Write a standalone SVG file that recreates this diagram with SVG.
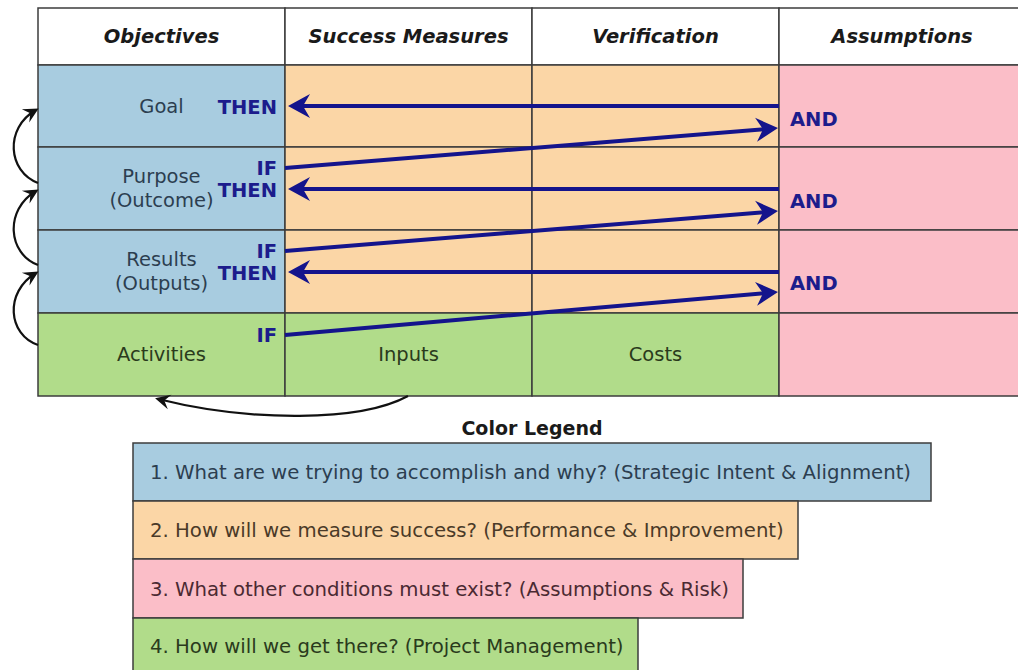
<svg xmlns="http://www.w3.org/2000/svg" width="1018" height="670" viewBox="0 0 1018 670">
<defs>
<style>
.cell{stroke:#3c3c3c;stroke-width:1.5}
.white{fill:#ffffff}
.blue{fill:#a8cce0}
.peach{fill:#fbd6a6}
.pink{fill:#fbbec8}
.green{fill:#b1dc8a}
.hdr{font-family:"DejaVu Sans",sans-serif;font-weight:bold;font-style:italic;font-size:19.5px;fill:#1a1a1a;text-anchor:middle}
.lbl{font-family:"DejaVu Sans",sans-serif;font-size:19.5px;text-anchor:middle}
.tb{fill:#2c3e50}
.tg{fill:#2a3a1c}
.kw{font-family:"DejaVu Sans",sans-serif;font-weight:bold;font-size:19.5px;fill:#1c1c8c}
.end{text-anchor:end}
.leg{font-family:"DejaVu Sans",sans-serif;font-size:19.7px}
.ttl{font-family:"DejaVu Sans",sans-serif;font-weight:bold;font-size:19px;fill:#1a1a1a;text-anchor:middle}
.link{stroke:#14148c;stroke-width:4;fill:none;marker-end:url(#bh)}
.flow{stroke:#111111;stroke-width:2.2;fill:none;marker-end:url(#kh)}
</style>
<marker id="bh" markerUnits="userSpaceOnUse" markerWidth="30" markerHeight="30" viewBox="-25 -15 30 30" refX="-6" refY="0" orient="auto">
<path d="M0,0 L-22,-12 L-15,0 L-22,12 Z" fill="#14148c"/>
</marker>
<marker id="kh" markerUnits="userSpaceOnUse" markerWidth="20" markerHeight="20" viewBox="-16 -10 20 20" refX="-3" refY="0" orient="auto">
<path d="M0,0 L-15,-7.5 L-9.5,0 L-15,7.5 Z" fill="#111111"/>
</marker>
</defs>
<rect x="0" y="0" width="1018" height="670" fill="#ffffff"/>

<g id="header">
<rect class="cell white" x="38" y="8" width="247" height="57"/>
<rect class="cell white" x="285" y="8" width="247" height="57"/>
<rect class="cell white" x="532" y="8" width="247" height="57"/>
<rect class="cell white" x="779" y="8" width="260" height="57"/>
<text class="hdr" x="161.5" y="43">Objectives</text>
<text class="hdr" x="408.5" y="43">Success Measures</text>
<text class="hdr" x="655.5" y="43">Verification</text>
<text class="hdr" x="902" y="43">Assumptions</text>
</g>

<g id="goal">
<rect class="cell blue" x="38" y="65" width="247" height="82"/>
<text class="lbl tb" x="161.5" y="113">Goal</text>
<text class="kw end" x="277" y="114">THEN</text>
</g>
<g id="purpose">
<rect class="cell blue" x="38" y="147" width="247" height="83"/>
<text class="lbl tb" x="161.5" y="183">Purpose</text>
<text class="lbl tb" x="161.5" y="207">(Outcome)</text>
<text class="kw end" x="277" y="175">IF</text>
<text class="kw end" x="277" y="197">THEN</text>
</g>
<g id="results">
<rect class="cell blue" x="38" y="230" width="247" height="83"/>
<text class="lbl tb" x="161.5" y="266">Results</text>
<text class="lbl tb" x="161.5" y="290">(Outputs)</text>
<text class="kw end" x="277" y="258">IF</text>
<text class="kw end" x="277" y="280">THEN</text>
</g>
<g id="activities">
<rect class="cell green" x="38" y="313" width="247" height="83"/>
<text class="lbl tg" x="161.5" y="361">Activities</text>
<text class="kw end" x="277" y="342">IF</text>
</g>

<g id="success-measures">
<rect class="cell peach" x="285" y="65" width="247" height="82"/>
<rect class="cell peach" x="285" y="147" width="247" height="83"/>
<rect class="cell peach" x="285" y="230" width="247" height="83"/>
</g>
<g id="inputs">
<rect class="cell green" x="285" y="313" width="247" height="83"/>
<text class="lbl tg" x="408.5" y="361">Inputs</text>
</g>
<g id="verification">
<rect class="cell peach" x="532" y="65" width="247" height="82"/>
<rect class="cell peach" x="532" y="147" width="247" height="83"/>
<rect class="cell peach" x="532" y="230" width="247" height="83"/>
</g>
<g id="costs">
<rect class="cell green" x="532" y="313" width="247" height="83"/>
<text class="lbl tg" x="655.5" y="361">Costs</text>
</g>
<g id="assumptions">
<rect class="cell pink" x="779" y="65" width="260" height="82"/>
<rect class="cell pink" x="779" y="147" width="260" height="83"/>
<rect class="cell pink" x="779" y="230" width="260" height="83"/>
<rect class="cell pink" x="779" y="313" width="260" height="83"/>
<text class="kw" x="790" y="126">AND</text>
<text class="kw" x="790" y="208">AND</text>
<text class="kw" x="790" y="290">AND</text>
</g>

<g id="connectors">
<line class="link" x1="779" y1="106" x2="294" y2="106"/>
<line class="link" x1="285" y1="168" x2="772" y2="128.5"/>
<line class="link" x1="779" y1="189" x2="294" y2="189"/>
<line class="link" x1="285" y1="251" x2="772" y2="211.5"/>
<line class="link" x1="779" y1="272" x2="294" y2="272"/>
<line class="link" x1="285" y1="335" x2="772" y2="292.5"/>
<path class="flow" d="M38,183 C8,172 4,128 36,110"/>
<path class="flow" d="M38,265 C8,254 4,210 36,191"/>
<path class="flow" d="M38,345 C8,335 4,292 36,273"/>
<path class="flow" d="M408,396 C360,422 250,422 158,399"/>
</g>

<g id="legend">
<text class="ttl" x="532" y="435">Color Legend</text>
<g id="legend-1">
<rect class="cell blue" x="133" y="443" width="798" height="58"/>
<text class="leg" x="150" y="479" fill="#2c3e50">1. What are we trying to accomplish and why? (Strategic Intent &amp; Alignment)</text>
</g>
<g id="legend-2">
<rect class="cell peach" x="133" y="501" width="665" height="58"/>
<text class="leg" x="150" y="537" fill="#4a3a28">2. How will we measure success? (Performance &amp; Improvement)</text>
</g>
<g id="legend-3">
<rect class="cell pink" x="133" y="559" width="610" height="59"/>
<text class="leg" x="150" y="596" fill="#4a2a32">3. What other conditions must exist? (Assumptions &amp; Risk)</text>
</g>
<g id="legend-4">
<rect class="cell green" x="133" y="618" width="505" height="60"/>
<text class="leg" x="150" y="653" fill="#2a3a1c">4. How will we get there? (Project Management)</text>
</g>
</g>
</svg>
